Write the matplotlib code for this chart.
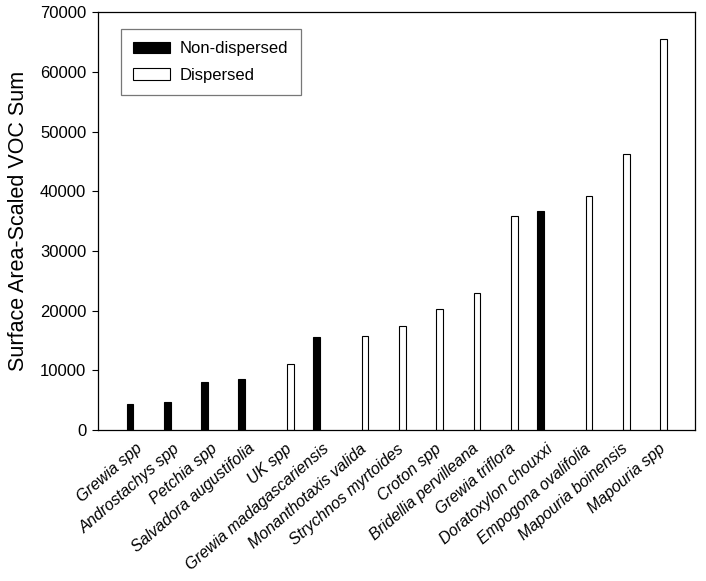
import numpy as np
import matplotlib
matplotlib.use("Agg")
import matplotlib.pyplot as plt

plt.rcParams['font.family'] = ['Liberation Sans', 'DejaVu Sans']

species = ['Grewia spp', 'Androstachys spp', 'Petchia spp', 'Salvadora augustifolia',
           'UK spp', 'Grewia madagascariensis', 'Monanthotaxis valida',
           'Strychnos myrtoides', 'Croton spp', 'Bridellia pervilleana',
           'Grewia triflora', 'Doratoxylon chouxxi', 'Empogona ovalifolia',
           'Mapouria boinensis', 'Mapouria spp']
voc_sum = [4300, 4700, 8100, 8500, 11000, 15500, 15700, 17500, 20200, 22900,
           35900, 36700, 39200, 46200, 65500]
dispersed = [False, False, False, False, True, False, True, True, True, True,
             True, False, True, True, True]

x = np.arange(1, len(species) + 1)
vals = np.array(voc_sum)
disp = np.array(dispersed)

fig = plt.figure(figsize=(7.06, 5.81), dpi=100)
ax = fig.add_axes([0.139, 0.26, 0.846, 0.719])

# grouped bars: non-dispersed left of centre, dispersed right
bw = 0.18
off = 0.15
ax.bar(x[~disp] - off, vals[~disp], width=bw, color='black', edgecolor='black',
       linewidth=0.8, label='Non-dispersed')
ax.bar(x[disp] + off, vals[disp], width=bw, color='white', edgecolor='black',
       linewidth=0.8, label='Dispersed')

ax.set_xlim(0, 16)
ax.set_ylim(0, 70000)
ax.set_yticks(np.arange(0, 70001, 10000))
ax.set_xticks(x)
ax.set_xticklabels(species, rotation=41, ha='right', rotation_mode='anchor',
                   fontstyle='italic', fontsize=11.5)
ax.tick_params(axis='x', length=0, pad=8)
ax.tick_params(axis='y', direction='out', length=4.5, width=0.8, labelsize=12, pad=4)
ax.set_ylabel('Surface Area-Scaled VOC Sum', fontsize=15.5, labelpad=8)

for s in ax.spines.values():
    s.set_linewidth(0.9)

leg = ax.legend(loc='upper left', bbox_to_anchor=(0.039, 0.959), fontsize=12,
                frameon=True, fancybox=False, edgecolor='#555555',
                handlelength=2.2, handleheight=0.7, borderpad=0.72,
                labelspacing=0.7, handletextpad=0.6, borderaxespad=0)
leg.get_frame().set_linewidth(0.9)

fig.savefig('out.png', dpi=100)
